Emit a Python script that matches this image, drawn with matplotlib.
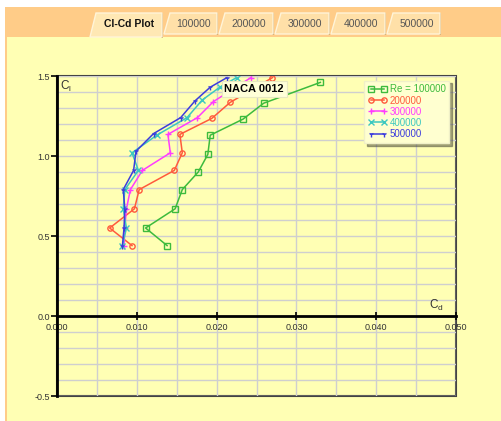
import matplotlib
matplotlib.use("Agg")
import matplotlib.pyplot as plt
from matplotlib.patches import Rectangle, Polygon

plt.rcParams['font.family'] = ['Liberation Sans', 'DejaVu Sans']

# polar data (Cd, Cl) for each Reynolds number
re_labels = ['Re = 100000', '200000', '300000', '400000', '500000']

cd_100k = [0.0138, 0.0111, 0.0148, 0.0157, 0.0177, 0.0189, 0.0192, 0.0233, 0.0259, 0.0330]
cl_100k = [0.44, 0.55, 0.67, 0.79, 0.90, 1.01, 1.13, 1.23, 1.33, 1.46]

cd_200k = [0.0094, 0.0066, 0.0097, 0.0103, 0.0147, 0.0157, 0.0154, 0.0194, 0.0217, 0.0270]
cl_200k = [0.44, 0.55, 0.67, 0.79, 0.91, 1.02, 1.135, 1.235, 1.335, 1.49]

cd_300k = [0.0084, 0.0085, 0.0087, 0.0092, 0.0107, 0.0142, 0.0139, 0.0176, 0.0196, 0.0243]
cl_300k = [0.44, 0.55, 0.67, 0.79, 0.91, 1.02, 1.135, 1.24, 1.34, 1.49]

cd_400k = [0.0082, 0.0087, 0.0083, 0.0085, 0.0102, 0.0094, 0.0125, 0.0163, 0.0182, 0.0204, 0.0225]
cl_400k = [0.44, 0.55, 0.67, 0.79, 0.91, 1.02, 1.13, 1.24, 1.35, 1.43, 1.49]

cd_500k = [0.0082, 0.0084, 0.0085, 0.0083, 0.0096, 0.0099, 0.0121, 0.0155, 0.0173, 0.0192, 0.0213]
cl_500k = [0.44, 0.55, 0.67, 0.79, 0.91, 1.03, 1.14, 1.24, 1.345, 1.43, 1.49]

tab_names = ['Cl-Cd Plot', '100000', '200000', '300000', '400000', '500000']

colors = ['#3dbb3d', '#ff5a3c', '#ff3cff', '#3cc8c0', '#3c3cdc']
markers = ['s', 'o', '+', 'x', '1']

W, H = 501, 421
fig = plt.figure(figsize=(W / 100, H / 100), dpi=100)
fig.patch.set_facecolor('white')

def fx(px):
    return px / W

def fy(py):
    return 1 - py / H

# window background: orange tab strip + pale yellow page
fig.patches.append(Rectangle((fx(5), 0), fx(W - 5), fy(7), transform=fig.transFigure,
                             facecolor='#ffcc88', edgecolor='none', zorder=-3))
fig.patches.append(Rectangle((fx(7), 0), fx(W - 7), fy(37), transform=fig.transFigure,
                             facecolor='#ffffb4', edgecolor='none', zorder=-2))

# tabs
tab_x = [(90, 162), (164, 217), (219, 273), (275, 329), (331, 385), (387, 440)]
for i, (name, (x0, x1)) in enumerate(zip(tab_names, tab_x)):
    yb = 37 if i == 0 else 34
    pts = [(fx(x0), fy(yb)), (fx(x0 + 6), fy(13)), (fx(x1), fy(13)), (fx(x1), fy(yb))]
    fig.patches.append(Polygon(pts, closed=True, transform=fig.transFigure,
                               facecolor='#ffe0a8' if i else '#ffe8b4',
                               edgecolor='#fff4d8', lw=1, zorder=-1))
    fig.lines.append(plt.Line2D([fx(x1), fx(x1)], [fy(yb), fy(14)], transform=fig.transFigure,
                                color='#b89050', lw=1.2, zorder=-1))
    fig.text(fx((x0 + x1) / 2 + 3), fy(24), name, ha='center', va='center',
             fontsize=7.5, fontweight='bold' if i == 0 else 'normal',
             color='#111111' if i == 0 else '#555555', zorder=-1)

ax = fig.add_axes([fx(57), fy(396), fx(399), 320 / H])
ax.set_zorder(5)
ax.set_facecolor('none')

for cd, cl, lab, c, m in zip([cd_100k, cd_200k, cd_300k, cd_400k, cd_500k],
                             [cl_100k, cl_200k, cl_300k, cl_400k, cl_500k],
                             re_labels, colors, markers):
    ax.plot(cd, cl, color=c, lw=1.1, marker=m, ms=3.8, mfc='none', mew=1.0,
            label=lab, zorder=3)

ax.set_xlim(0, 0.05)
ax.set_ylim(-0.5, 1.5)
ax.set_xticks([0, 0.01, 0.02, 0.03, 0.04, 0.05])
ax.set_xticklabels(['0.000', '0.010', '0.020', '0.030', '0.040', '0.050'])
ax.set_yticks([-0.5, 0.0, 0.5, 1.0, 1.5])
ax.set_yticklabels(['-0.5', '0.0', '0.5', '1.0', '1.5'])
ax.set_xticks([i * 0.005 for i in range(11)], minor=True)
ax.set_yticks([-0.5 + i * 0.1 for i in range(21)], minor=True)
ax.grid(True, which='both', color='#cfcfcf', lw=1.0, zorder=0)
ax.tick_params(which='minor', length=0)
ax.tick_params(axis='x', which='major', direction='inout', length=6, width=1.2,
               labelsize=6.5, labelcolor='#333333', pad=2)
ax.tick_params(axis='y', which='major', direction='out', length=4, width=1.2,
               labelsize=6.5, labelcolor='#333333', pad=1)

ax.spines['bottom'].set_position(('data', 0))
ax.spines['bottom'].set_linewidth(2)
ax.spines['left'].set_linewidth(2)
ax.spines['top'].set_visible(False)
ax.spines['right'].set_visible(False)
ax.add_patch(Rectangle((0, 0), 1, 1, transform=ax.transAxes, fill=False,
                       edgecolor='#444444', lw=1.5, zorder=1, clip_on=False))

ax.text(0.008, 0.99, r'$\mathregular{C_l}$', transform=ax.transAxes, fontsize=8.5,
        va='top', ha='left', color='#333333')
ax.text(0.0475, 0.02, r'$\mathregular{C_d}$', fontsize=8.5, ha='center', va='bottom',
        color='#333333')

ax.text(0.0247, 1.419, 'NACA 0012', fontsize=8, fontweight='bold', ha='center', va='center',
        zorder=5,
        bbox=dict(boxstyle='square,pad=0.25', facecolor='#ffffd8', edgecolor='#e8e8c0', lw=0.8))

leg = ax.legend(loc='upper right', bbox_to_anchor=(0.988, 0.992), fontsize=7, numpoints=2,
                handlelength=1.9, handletextpad=0.3, labelspacing=0.12, borderpad=0.4,
                borderaxespad=0.2, frameon=True, fancybox=False, shadow=True)
leg.get_frame().set_facecolor('#ffffd0')
leg.get_frame().set_edgecolor('#f0f0c8')
for t, c in zip(leg.get_texts(), colors):
    t.set_color(c)

fig.savefig('out.png', dpi=100, facecolor=fig.get_facecolor())
